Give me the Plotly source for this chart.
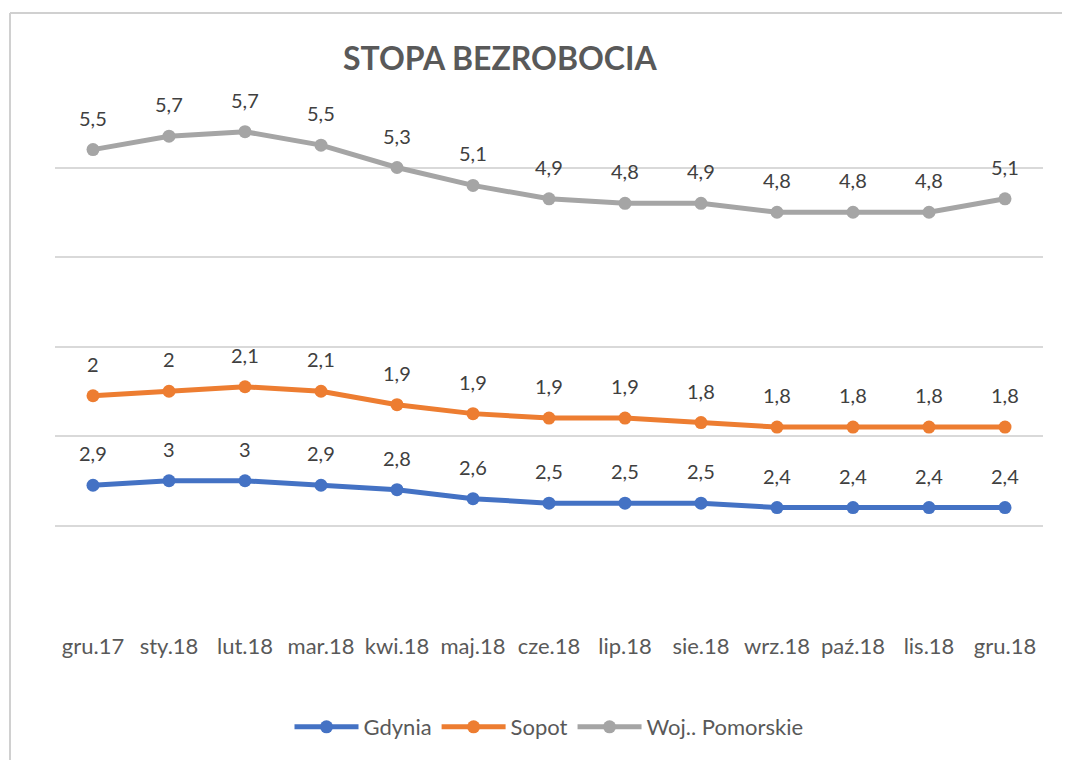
import plotly.graph_objects as go
import numpy as np

categories = ["gru.17", "sty.18", "lut.18", "mar.18", "kwi.18", "maj.18", "cze.18",
              "lip.18", "sie.18", "wrz.18", "paź.18", "lis.18", "gru.18"]
gdynia = [2.9, 3, 3, 2.9, 2.8, 2.6, 2.5, 2.5, 2.5, 2.4, 2.4, 2.4, 2.4]
sopot = [2, 2, 2.1, 2.1, 1.9, 1.9, 1.9, 1.9, 1.8, 1.8, 1.8, 1.8, 1.8]
pomorskie = [5.5, 5.7, 5.7, 5.5, 5.3, 5.1, 4.9, 4.8, 4.9, 4.8, 4.8, 4.8, 5.1]

series = [("Gdynia", gdynia, "#4472C4"),
          ("Sopot", sopot, "#ED7D31"),
          ("Woj.. Pomorskie", pomorskie, "#A5A5A5")]

FONT = "Lato, Calibri, Carlito, sans-serif"
TEXT = "#595959"
LABEL = "#404040"

# page body has an 8px margin; figure sized to fit the window without scrollbars
OFF = 8
W, H = 1070 - OFF, 760 - OFF
# plot area target on screen: x 55..1043, y 78..615
PL, PR, PT, PB = 55, 1043, 78, 615
PW, PH = PR - PL, PB - PT

fig = go.Figure()
annotations = []
cum = np.zeros(len(categories))
for name, vals, color in series:
    cum = cum + np.array(vals)
    fig.add_trace(go.Scatter(
        x=categories, y=cum.tolist(), name=name, mode="lines+markers",
        line=dict(color=color, width=5), marker=dict(color=color, size=13),
        hoverinfo="skip"))
    for c, yv, v in zip(categories, cum, vals):
        annotations.append(dict(
            x=c, y=float(yv), text=f"{v:g}".replace(".", ","), showarrow=False,
            yshift=32, font=dict(family=FONT, size=20, color=LABEL)))

annotations.append(dict(
    xref="paper", yref="paper", x=(500 - PL) / PW, y=(PB - 57) / PH,
    text="<b>STOPA BEZROBOCIA</b>", showarrow=False, xanchor="center", yanchor="middle",
    font=dict(family=FONT, size=32, color=TEXT)))

bx = (10 - PL) / PW
by = (PB - 13) / PH
border = dict(color="#d0d0d0", width=2)

fig.update_layout(
    width=W, height=H,
    margin=dict(l=PL - OFF, r=OFF + W - PR, t=PT - OFF, b=OFF + H - PB),
    paper_bgcolor="white", plot_bgcolor="white",
    showlegend=True,
    legend=dict(orientation="h", x=(549 - PL) / PW, xanchor="center", y=(PB - 727) / PH,
                yanchor="middle", font=dict(family=FONT, size=22, color=TEXT),
                itemwidth=64, traceorder="normal"),
    annotations=annotations,
    shapes=[dict(type="line", xref="paper", yref="paper", x0=bx, x1=1.05, y0=by, y1=by,
                 line=border, layer="below"),
            dict(type="line", xref="paper", yref="paper", x0=bx, x1=bx, y0=-0.3, y1=by,
                 line=border, layer="below")],
    xaxis=dict(type="category", range=[-0.5, 12.5], showgrid=False, showline=False,
               zeroline=False, ticks="outside", ticklen=12, tickcolor="rgba(0,0,0,0)",
               tickfont=dict(family=FONT, size=22, color=TEXT)),
    yaxis=dict(range=[0, 12], dtick=2, showticklabels=False, showgrid=True,
               gridcolor="#d9d9d9", gridwidth=1.5, zeroline=False, showline=False),
)

fig.write_html("out.html")
